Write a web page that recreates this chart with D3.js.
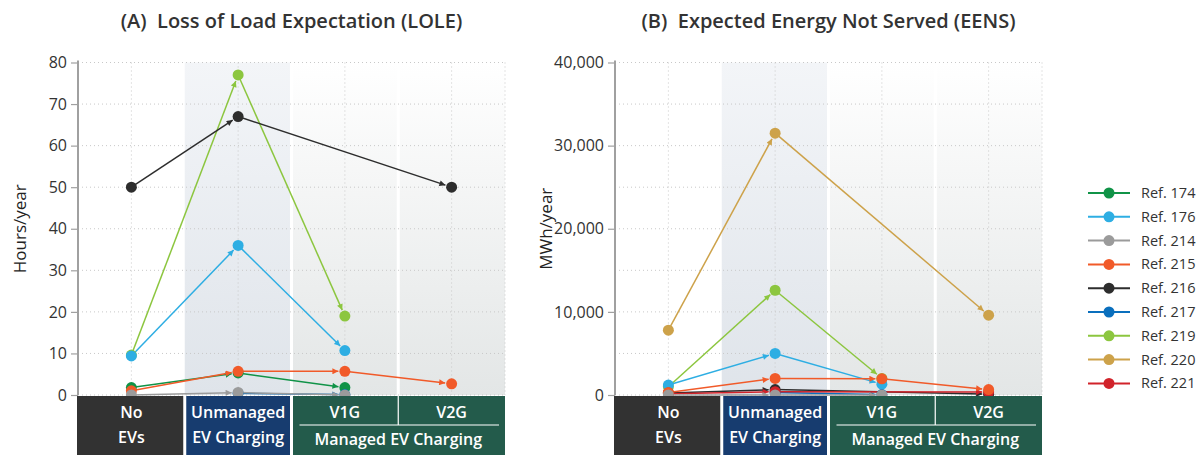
<!DOCTYPE html>
<html>
<head>
<meta charset="utf-8">
<script src="https://cdn.jsdelivr.net/npm/d3@7"></script>
<style>
  html, body { margin: 0; padding: 0; background: #fff; }
  svg { display: block; font-family: "Open Sans", "Noto Sans", sans-serif; }
</style>
</head>
<body>
<svg id="chart" width="1198" height="455"></svg>
<script>
// Scenario categories along the x axis
const categories = ["No EVs", "Unmanaged EV Charging", "V1G", "V2G"];

// Reference studies and their colours
const refNames  = ["Ref. 174", "Ref. 176", "Ref. 214", "Ref. 215", "Ref. 216", "Ref. 217", "Ref. 219", "Ref. 220", "Ref. 221"];
const refColors = ["#109347", "#2eaee3", "#9b9b9b", "#f15a29", "#2d2d2d", "#0a6fbd", "#8cc63f", "#cda24a", "#d1232a"];

// (A) Loss of load expectation, hours/year (null = not studied)
const lole174 = [1.8, 5.3, 1.8, null];
const lole176 = [9.4, 36, 10.7, null];
const lole214 = [0, 0.6, 0, null];
const lole215 = [1.0, 5.7, 5.7, 2.7];
const lole216 = [50, 67, null, 50];
const lole217 = [null, 0.4, 0.1, null];
const lole219 = [9.6, 77, 19, null];

// (B) Expected energy not served, MWh/year
const eens176 = [1200, 5000, 1300, null];
const eens214 = [0, 0, 0, null];
const eens215 = [300, 2000, 1950, 650];
const eens216 = [250, 650, null, 100];
const eens217 = [null, 300, 50, null];
const eens219 = [1000, 12600, 2000, null];
const eens220 = [7800, 31500, null, 9600];
const eens221 = [150, 400, null, 350];

// Axis ticks
const loleTicks = [0, 10, 20, 30, 40, 50, 60, 70, 80];
const loleGrid  = [0, 10, 20, 30, 40, 50, 60, 70, 80];
const eensTicks = [0, 10000, 20000, 30000, 40000];
const eensGrid  = [0, 5000, 10000, 15000, 20000, 25000, 30000, 35000, 40000];

// Drawing order (later on top)
const loleSeries = [
  { ref: "Ref. 219", values: lole219 },
  { ref: "Ref. 216", values: lole216 },
  { ref: "Ref. 176", values: lole176 },
  { ref: "Ref. 174", values: lole174 },
  { ref: "Ref. 217", values: lole217 },
  { ref: "Ref. 215", values: lole215 },
  { ref: "Ref. 214", values: lole214 }
];
const eensSeries = [
  { ref: "Ref. 220", values: eens220 },
  { ref: "Ref. 219", values: eens219 },
  { ref: "Ref. 176", values: eens176 },
  { ref: "Ref. 216", values: eens216 },
  { ref: "Ref. 217", values: eens217 },
  { ref: "Ref. 221", values: eens221 },
  { ref: "Ref. 215", values: eens215 },
  { ref: "Ref. 214", values: eens214 }
];

const color = d3.scaleOrdinal().domain(refNames).range(refColors);
const svg = d3.select("#chart");
const defs = svg.append("defs");

// Band backgrounds
const gUnm = defs.append("linearGradient").attr("id", "gradUnmanaged").attr("x1", 0).attr("y1", 0).attr("x2", 0).attr("y2", 1);
gUnm.append("stop").attr("offset", "0%").attr("stop-color", "#f3f5f8");
gUnm.append("stop").attr("offset", "100%").attr("stop-color", "#dfe4ea");
const gMan = defs.append("linearGradient").attr("id", "gradManaged").attr("x1", 0).attr("y1", 0).attr("x2", 0).attr("y2", 1);
gMan.append("stop").attr("offset", "0%").attr("stop-color", "#ffffff");
gMan.append("stop").attr("offset", "100%").attr("stop-color", "#e3e6e6");

// One arrowhead marker per colour
refNames.forEach((r, i) => {
  defs.append("marker")
    .attr("id", "arrow" + i)
    .attr("viewBox", "0 0 10 10")
    .attr("refX", 10).attr("refY", 5)
    .attr("markerWidth", 8).attr("markerHeight", 6)
    .attr("markerUnits", "userSpaceOnUse")
    .attr("orient", "auto")
    .append("path")
    .attr("d", "M0,0 L10,5 L0,10 z")
    .attr("fill", refColors[i]);
});

const plotTop = 62.5, plotBottom = 395, dotR = 5.5;

function drawPanel(opts) {
  const g = svg.append("g");
  const x = d3.scaleBand().domain(categories).range([opts.x0, opts.x1]);
  const bw = x.bandwidth();
  const cx = c => x(c) + bw / 2;
  const y = d3.scaleLinear().domain([0, opts.max]).range([plotBottom, plotTop]);

  // shaded scenario bands
  g.append("rect").attr("x", x(categories[1])).attr("y", plotTop).attr("width", bw).attr("height", plotBottom - plotTop).attr("fill", "url(#gradUnmanaged)");
  g.append("rect").attr("x", x(categories[2])).attr("y", plotTop).attr("width", bw * 2).attr("height", plotBottom - plotTop).attr("fill", "url(#gradManaged)");
  [categories[2], categories[3]].forEach(c => {
    g.append("rect").attr("x", x(c) - 1.5).attr("y", plotTop).attr("width", 3).attr("height", plotBottom - plotTop).attr("fill", "#fff");
  });

  // dotted grid
  g.selectAll(".hgrid").data(opts.grid).join("line")
    .attr("x1", opts.x0).attr("x2", opts.x1)
    .attr("y1", d => y(d)).attr("y2", d => y(d))
    .attr("stroke", "#c8c8c8").attr("stroke-width", 1).attr("stroke-dasharray", "1,3");
  g.selectAll(".vgrid").data(categories).join("line")
    .attr("x1", d => cx(d)).attr("x2", d => cx(d))
    .attr("y1", plotTop).attr("y2", plotBottom)
    .attr("stroke", "#c8c8c8").attr("stroke-width", 1).attr("stroke-dasharray", "1,3");
  g.append("line").attr("x1", opts.x1).attr("x2", opts.x1).attr("y1", plotTop).attr("y2", plotBottom)
    .attr("stroke", "#c8c8c8").attr("stroke-width", 1).attr("stroke-dasharray", "1,3");

  // y axis
  const axis = d3.axisLeft(y).tickValues(opts.ticks).tickFormat(opts.fmt).tickSize(7).tickPadding(4);
  const ag = g.append("g").attr("transform", `translate(${opts.x0},0)`).call(axis);
  ag.select(".domain").attr("stroke", "#a0a0a0").attr("stroke-width", 2).attr("d", `M0,${plotTop - 2}V${plotBottom}`);
  ag.selectAll(".tick line").attr("stroke", "#a0a0a0").attr("stroke-width", 1.2);
  ag.selectAll(".tick text").attr("fill", "#333").attr("font-size", 16).attr("font-family", "'Open Sans', sans-serif");

  // axis title
  g.append("text")
    .attr("transform", `translate(${opts.titleX},${(plotTop + plotBottom) / 2}) rotate(-90)`)
    .attr("text-anchor", "middle").attr("font-size", 17).attr("fill", "#222")
    .text(opts.yLabel);

  // panel title
  g.append("text")
    .attr("x", (opts.x0 + opts.x1) / 2).attr("y", 28)
    .attr("text-anchor", "middle").attr("font-size", 20).attr("font-weight", 600).attr("fill", "#333")
    .attr("xml:space", "preserve")
    .text(opts.title);

  // connecting arrows between studied scenarios
  const lineG = g.append("g");
  const dotG = g.append("g");
  opts.series.forEach(s => {
    const col = color(s.ref);
    const idx = refNames.indexOf(s.ref);
    const pts = s.values.map((v, i) => v == null ? null : [cx(categories[i]), y(v)]).filter(p => p);
    for (let k = 0; k < pts.length - 1; k++) {
      const [ax, ay] = pts[k], [bx, by] = pts[k + 1];
      const len = Math.hypot(bx - ax, by - ay);
      const ex = bx - (bx - ax) / len * (dotR + 1), ey = by - (by - ay) / len * (dotR + 1);
      lineG.append("line")
        .attr("x1", ax).attr("y1", ay).attr("x2", ex).attr("y2", ey)
        .attr("stroke", col).attr("stroke-width", 1.5)
        .attr("marker-end", `url(#arrow${idx})`);
    }
    dotG.selectAll(null).data(pts).join("circle")
      .attr("cx", p => p[0]).attr("cy", p => p[1]).attr("r", dotR).attr("fill", col);
  });

  // scenario label boxes
  const bh = 62, by0 = plotBottom + 1;
  const boxG = g.append("g");
  boxG.append("rect").attr("x", opts.x0 - 1).attr("y", by0).attr("width", bw - 0.5).attr("height", bh).attr("fill", "#323232");
  boxG.append("rect").attr("x", x(categories[1]) + 1.5).attr("y", by0).attr("width", bw - 3).attr("height", bh).attr("fill", "#173c6f");
  boxG.append("rect").attr("x", x(categories[2]) + 1.5).attr("y", by0).attr("width", bw * 2 - 1.5).attr("height", bh).attr("fill", "#235b4b");
  boxG.append("line").attr("x1", x(categories[3])).attr("x2", x(categories[3])).attr("y1", by0).attr("y2", 425)
    .attr("stroke", "#fff").attr("stroke-width", 1.2);
  boxG.append("line").attr("x1", x(categories[2]) + 8).attr("x2", opts.x1 - 6).attr("y1", 425).attr("y2", 425)
    .attr("stroke", "#fff").attr("stroke-width", 1.2);
  const lab = (tx, ty, t) => boxG.append("text").attr("x", tx).attr("y", ty)
    .attr("text-anchor", "middle").attr("fill", "#fff").attr("font-size", 16).attr("font-weight", 600).text(t);
  lab(cx(categories[0]), 418, "No");
  lab(cx(categories[0]), 443, "EVs");
  lab(cx(categories[1]), 418, "Unmanaged");
  lab(cx(categories[1]), 443, "EV Charging");
  lab(cx(categories[2]), 418, "V1G");
  lab(cx(categories[3]), 418, "V2G");
  lab(x(categories[3]), 445, "Managed EV Charging");
}

drawPanel({
  x0: 78, x1: 505, max: 80, ticks: loleTicks, grid: loleGrid, fmt: d3.format("d"),
  yLabel: "Hours/year", titleX: 26, title: "(A)  Loss of Load Expectation (LOLE)", series: loleSeries
});
drawPanel({
  x0: 615, x1: 1042, max: 40000, ticks: eensTicks, grid: eensGrid, fmt: d3.format(","),
  yLabel: "MWh/year", titleX: 552, title: "(B)  Expected Energy Not Served (EENS)", series: eensSeries
});

// legend
const leg = svg.append("g").attr("transform", "translate(1088,193)");
const items = leg.selectAll("g").data(refNames).join("g").attr("transform", (d, i) => `translate(0,${i * 23.8})`);
items.append("line").attr("x1", 0).attr("x2", 42).attr("stroke", d => color(d)).attr("stroke-width", 2);
items.append("circle").attr("cx", 21).attr("r", 5.5).attr("fill", d => color(d));
items.append("text").attr("x", 53).attr("dy", "0.35em").attr("font-size", 14.5).attr("fill", "#333").text(d => d);
</script>
</body>
</html>
